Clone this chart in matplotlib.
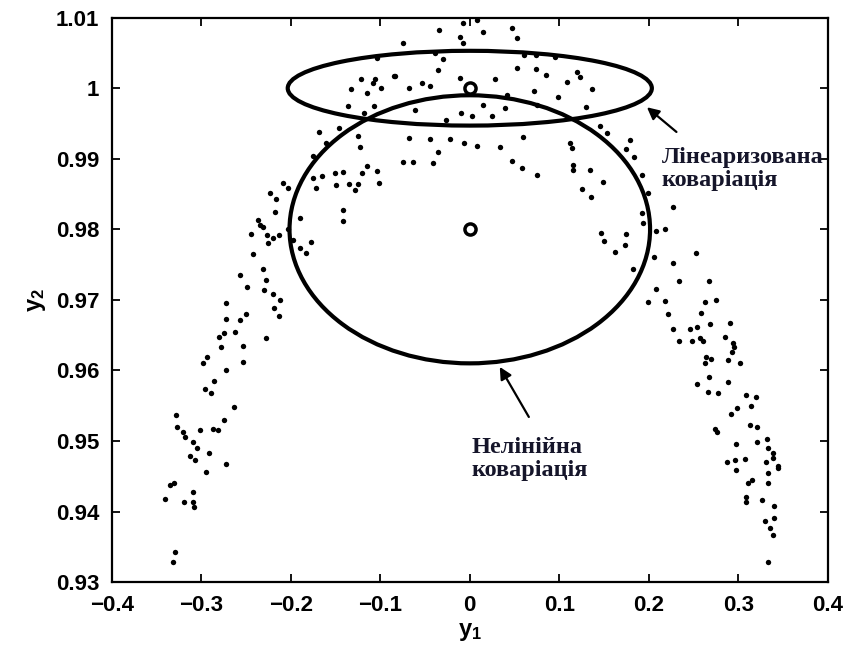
import numpy as np
import matplotlib.pyplot as plt
from matplotlib.patches import Ellipse

plt.rcParams["font.family"] = ["Liberation Sans", "DejaVu Sans"]
plt.rcParams["mathtext.fontset"] = "custom"
plt.rcParams["mathtext.rm"] = "Liberation Sans"
plt.rcParams["mathtext.bf"] = "Liberation Sans:bold"

# sample points (y1, y2)
LEFT_SHOULDER = [
    (-0.104, 1.0043), (-0.122, 1.0013), (-0.106, 1.0013), (-0.108, 1.0007), (-0.099, 1.0000),
    (-0.085, 1.0017), (-0.133, 0.9999), (-0.115, 0.9993), (-0.136, 0.9975), (-0.107, 0.9975),
    (-0.118, 0.9965), (-0.168, 0.9938), (-0.146, 0.9944), (-0.125, 0.9932), (-0.161, 0.9922),
    (-0.123, 0.9917), (-0.175, 0.9904), (-0.115, 0.9890), (-0.142, 0.9881), (-0.151, 0.9880),
    (-0.120, 0.9880), (-0.104, 0.9883), (-0.175, 0.9873), (-0.165, 0.9876), (-0.172, 0.9859),
    (-0.149, 0.9863), (-0.135, 0.9864), (-0.125, 0.9864), (-0.128, 0.9856), (-0.101, 0.9866),
    (-0.209, 0.9866), (-0.203, 0.9859), (-0.223, 0.9851), (-0.217, 0.9843), (-0.218, 0.9825),
    (-0.142, 0.9827), (-0.190, 0.9816), (-0.237, 0.9813),
]

CREST = [
    (-0.008, 1.0092), (0.008, 1.0096), (-0.034, 1.0082), (0.015, 1.0079), (0.047, 1.0085),
    (0.053, 1.0071), (-0.011, 1.0072), (-0.075, 1.0064), (-0.008, 1.0064), (-0.039, 1.0050),
    (-0.030, 1.0041), (0.061, 1.0047), (0.074, 1.0047), (0.095, 1.0044), (-0.035, 1.0026),
    (0.053, 1.0028), (0.074, 1.0027), (0.085, 1.0019), (0.120, 1.0023), (0.123, 1.0016),
    (-0.084, 1.0017), (-0.053, 1.0007), (-0.045, 1.0003), (-0.068, 1.0000), (-0.011, 1.0014),
    (0.028, 1.0013), (0.072, 0.9996), (0.109, 1.0009), (0.137, 0.9999), (0.099, 0.9987),
    (0.130, 0.9973), (0.042, 0.9990), (-0.061, 0.9969), (-0.010, 0.9965), (0.003, 0.9961),
    (0.025, 0.9961), (0.039, 0.9972), (0.015, 0.9976), (-0.027, 0.9955), (0.075, 0.9976),
    (-0.068, 0.9929), (-0.044, 0.9928), (-0.022, 0.9928), (-0.007, 0.9922), (0.008, 0.9918),
    (0.034, 0.9917), (0.059, 0.9931), (-0.036, 0.9910), (-0.075, 0.9895), (-0.064, 0.9895),
    (-0.041, 0.9894), (0.047, 0.9897), (0.058, 0.9887), (0.075, 0.9877), (0.112, 0.9922),
    (0.114, 0.9915), (0.115, 0.9891), (0.115, 0.9884), (0.134, 0.9884), (0.149, 0.9867),
    (0.125, 0.9857), (0.135, 0.9846), (0.145, 0.9946), (0.153, 0.9936), (0.179, 0.9927),
    (0.175, 0.9914), (0.183, 0.9902), (0.193, 0.9877), (0.199, 0.9851), (0.227, 0.9832),
]

LEFT_ARM = [
    (-0.235, 0.9806), (-0.231, 0.9803), (-0.244, 0.9793), (-0.227, 0.9792), (-0.226, 0.9781),
    (-0.220, 0.9788), (-0.213, 0.9792), (-0.203, 0.9800), (-0.198, 0.9785), (-0.190, 0.9774),
    (-0.183, 0.9767), (-0.177, 0.9782), (-0.142, 0.9812), (-0.242, 0.9765), (-0.257, 0.9735),
    (-0.231, 0.9744), (-0.228, 0.9728), (-0.249, 0.9718), (-0.230, 0.9714), (-0.220, 0.9708),
    (-0.212, 0.9700), (-0.219, 0.9689), (-0.213, 0.9677), (-0.273, 0.9696), (-0.273, 0.9673),
    (-0.250, 0.9680), (-0.257, 0.9672), (-0.275, 0.9653), (-0.280, 0.9648), (-0.263, 0.9655),
    (-0.278, 0.9633), (-0.253, 0.9635), (-0.228, 0.9646), (-0.294, 0.9619), (-0.298, 0.9611),
    (-0.253, 0.9612), (-0.272, 0.9601), (-0.286, 0.9585), (-0.296, 0.9574), (-0.289, 0.9568),
    (-0.264, 0.9548), (-0.328, 0.9537), (-0.275, 0.9530), (-0.327, 0.9520), (-0.321, 0.9512),
    (-0.318, 0.9506), (-0.302, 0.9515), (-0.287, 0.9517), (-0.282, 0.9515), (-0.309, 0.9499),
    (-0.305, 0.9490), (-0.291, 0.9483), (-0.313, 0.9478), (-0.307, 0.9473), (-0.272, 0.9468),
    (-0.295, 0.9456), (-0.335, 0.9438), (-0.331, 0.9441), (-0.309, 0.9427), (-0.341, 0.9418),
    (-0.320, 0.9414), (-0.309, 0.9414), (-0.308, 0.9407), (-0.330, 0.9342), (-0.332, 0.9329),
]

RIGHT_ARM = [
    (0.193, 0.9823), (0.194, 0.9809), (0.147, 0.9795), (0.150, 0.9784), (0.175, 0.9793),
    (0.173, 0.9778), (0.162, 0.9768), (0.208, 0.9798), (0.218, 0.9800), (0.253, 0.9767),
    (0.206, 0.9761), (0.227, 0.9752), (0.182, 0.9744), (0.234, 0.9727), (0.267, 0.9727),
    (0.208, 0.9716), (0.199, 0.9697), (0.218, 0.9699), (0.263, 0.9697), (0.275, 0.9700),
    (0.222, 0.9680), (0.258, 0.9682), (0.268, 0.9666), (0.291, 0.9667), (0.227, 0.9659),
    (0.246, 0.9659), (0.254, 0.9661), (0.234, 0.9642), (0.248, 0.9641), (0.257, 0.9646),
    (0.261, 0.9642), (0.285, 0.9648), (0.294, 0.9639), (0.295, 0.9633), (0.293, 0.9626),
    (0.264, 0.9619), (0.270, 0.9616), (0.263, 0.9611), (0.289, 0.9615), (0.302, 0.9611),
    (0.267, 0.9590), (0.254, 0.9581), (0.289, 0.9584), (0.266, 0.9570), (0.277, 0.9568),
    (0.309, 0.9565), (0.320, 0.9563), (0.299, 0.9547), (0.314, 0.9550), (0.292, 0.9538),
    (0.274, 0.9517), (0.276, 0.9512), (0.313, 0.9523), (0.321, 0.9520), (0.297, 0.9496),
    (0.321, 0.9499), (0.332, 0.9503), (0.333, 0.9490), (0.339, 0.9483), (0.339, 0.9476),
    (0.288, 0.9470), (0.296, 0.9473), (0.308, 0.9475), (0.331, 0.9470), (0.345, 0.9465),
    (0.345, 0.9461), (0.297, 0.9459), (0.333, 0.9454), (0.311, 0.9441), (0.316, 0.9444),
    (0.333, 0.9440), (0.309, 0.9420), (0.309, 0.9414), (0.327, 0.9416), (0.340, 0.9408),
    (0.330, 0.9387), (0.340, 0.9391), (0.336, 0.9377), (0.339, 0.9366), (0.333, 0.9329),
]

# means and covariance ellipses (center, half-width, half-height)
LIN_MEAN = (0.0, 1.0)
LIN_HALF = (0.2035, 0.0053)
NONLIN_MEAN = (0.0, 0.98)
NONLIN_HALF = (0.2015, 0.0190)

LIN_LABEL = "Лінеаризована\nковаріація"
NONLIN_LABEL = "Нелінійна\nковаріація"

XTICKS = [-0.4, -0.3, -0.2, -0.1, 0, 0.1, 0.2, 0.3, 0.4]
XTICK_LABELS = ["\u22120.4", "\u22120.3", "\u22120.2", "\u22120.1", "0",
                "0.1", "0.2", "0.3", "0.4"]
YTICKS = [0.93, 0.94, 0.95, 0.96, 0.97, 0.98, 0.99, 1.0, 1.01]
YTICK_LABELS = ["0.93", "0.94", "0.95", "0.96", "0.97", "0.98", "0.99", "1", "1.01"]


fig = plt.figure(figsize=(8.48, 6.54), dpi=100)
ax = fig.add_axes([0.132, 0.110, 0.844, 0.863])

pts = np.array(LEFT_SHOULDER + CREST + LEFT_ARM + RIGHT_ARM)
ax.scatter(pts[:, 0], pts[:, 1], s=15, color="black", linewidths=0, zorder=2)

for mean, half in [(LIN_MEAN, LIN_HALF), (NONLIN_MEAN, NONLIN_HALF)]:
    ax.add_patch(Ellipse(mean, 2 * half[0], 2 * half[1], fill=False,
                         edgecolor="black", linewidth=3.0, zorder=3))
    ax.plot(mean[0], mean[1], "o", markersize=8, markerfacecolor="none",
            markeredgecolor="black", markeredgewidth=2.5, zorder=4)

text_kw = dict(fontsize=17.5, fontweight="bold", color="#15152a",
               family=["Liberation Serif", "DejaVu Serif"],
               ha="left", va="top", linespacing=1.12)
arrow_kw = dict(arrowstyle="-|>", color="black", lw=1.6, mutation_scale=18,
                shrinkA=0, shrinkB=0)

ax.annotate("", xy=(0.198, 0.9973), xytext=(0.231, 0.9938), arrowprops=arrow_kw)
ax.text(0.2145, 0.9916, LIN_LABEL, **text_kw)

ax.annotate("", xy=(0.0335, 0.9605), xytext=(0.066, 0.9534), arrowprops=arrow_kw)
ax.text(0.002, 0.9506, NONLIN_LABEL, **text_kw)

ax.set_xlim(-0.4, 0.4)
ax.set_ylim(0.93, 1.01)
ax.set_xticks(XTICKS)
ax.set_xticklabels(XTICK_LABELS)
ax.set_yticks(YTICKS)
ax.set_yticklabels(YTICK_LABELS)
ax.tick_params(direction="in", length=6, width=1.3, labelsize=16,
               top=True, right=True, pad=9)
for lab in ax.get_xticklabels() + ax.get_yticklabels():
    lab.set_fontweight("bold")

for sp in ax.spines.values():
    sp.set_linewidth(1.6)

ax.set_xlabel(r"$\mathbf{y_1}$", fontsize=17, labelpad=4)
ax.set_ylabel(r"$\mathbf{y_2}$", fontsize=17, labelpad=6)

plt.savefig("out.png", dpi=100)
plt.close()
